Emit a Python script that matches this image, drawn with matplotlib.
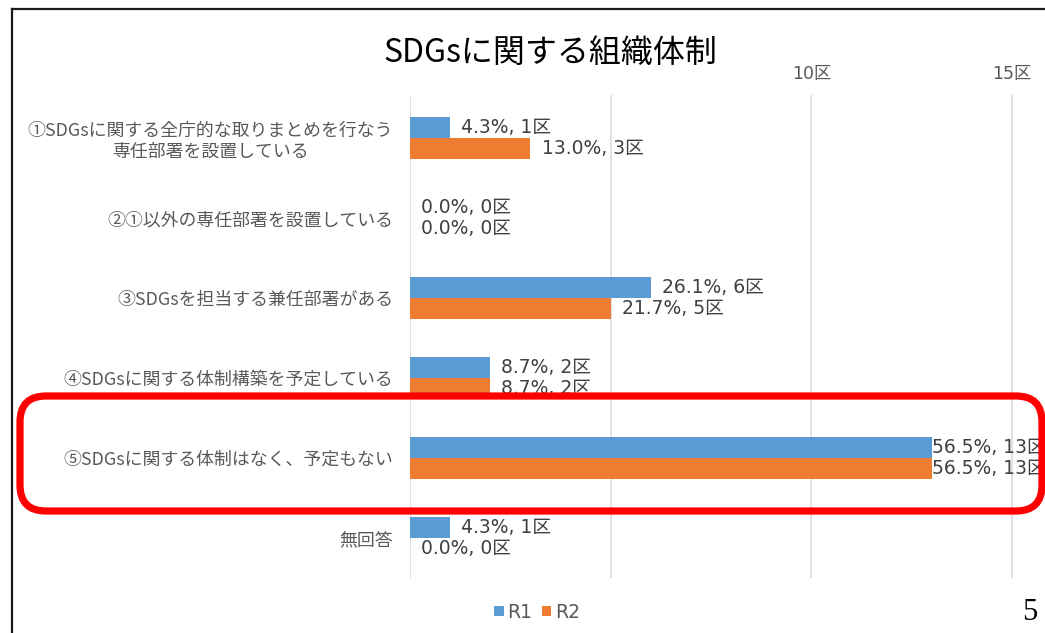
import matplotlib
matplotlib.use("Agg")
import matplotlib.pyplot as plt
from matplotlib.patches import FancyBboxPatch
from matplotlib.lines import Line2D
from matplotlib.transforms import IdentityTransform

plt.rcParams['font.family'] = ['DejaVu Sans', 'Noto Sans CJK JP']
CJK_FONT = ['Noto Sans CJK JP', 'DejaVu Sans']

categories = [
    "①SDGsに関する全庁的な取りまとめを行なう\n専任部署を設置している",
    "②①以外の専任部署を設置している",
    "③SDGsを担当する兼任部署がある",
    "④SDGsに関する体制構築を予定している",
    "⑤SDGsに関する体制はなく、予定もない",
    "無回答",
]
r1_counts = [1, 0, 6, 2, 13, 1]
r1_pcts = [4.3, 0.0, 26.1, 8.7, 56.5, 4.3]
r2_counts = [3, 0, 5, 2, 13, 0]
r2_pcts = [13.0, 0.0, 21.7, 8.7, 56.5, 0.0]
xticks = [0, 5, 10, 15]
xtick_labels = ["", "", "10区", "15区"]
series_names = ["R1", "R2"]

BLUE = "#5B9BD5"
ORANGE = "#ED7D31"
GRID = "#D9D9D9"

W, H = 1045, 633
fig = plt.figure(figsize=(W / 100, H / 100), dpi=100)
fig.patch.set_facecolor("white")

ax_left, ax_right, ax_top, ax_bot = 410, 1045, 95, 578
ax = fig.add_axes([ax_left / W, 1 - ax_bot / H, (ax_right - ax_left) / W, (ax_bot - ax_top) / H])

n = len(categories)
ypos = list(range(n))
bh = 0.2625
b1 = ax.barh([y - bh / 2 for y in ypos], r1_counts, height=bh, color=BLUE, label=series_names[0], zorder=3)
b2 = ax.barh([y + bh / 2 for y in ypos], r2_counts, height=bh, color=ORANGE, label=series_names[1], zorder=3)

xmax = (ax_right - ax_left) / ((1012 - 410) / 15)
ax.set_xlim(0, xmax)
ax.set_ylim(5.5, -0.5375)

ax.xaxis.tick_top()
ax.set_xticks(xticks)
ax.set_xticklabels(xtick_labels)
ax.tick_params(axis='x', length=0, pad=9, labelsize=12.5, labelcolor="#595959")
ax.set_yticks(ypos)
ax.set_yticklabels(categories, multialignment='center', family=CJK_FONT)
ax.tick_params(axis='y', length=0, pad=12, labelsize=12.9, labelcolor="#595959")
ax.grid(axis='x', color=GRID, linewidth=1.1, zorder=0)
for s in ax.spines.values():
    s.set_visible(False)

def label(y, v, p):
    off = 0 if v >= 12 else 8
    ax.annotate(f"{p:.1f}%, {v}区", xy=(v, y), xytext=(off, 0), textcoords="offset points",
                ha="left", va="center", fontsize=13.5, color="#404040", zorder=4,
                annotation_clip=False)

for y, v, p in zip(ypos, r1_counts, r1_pcts):
    label(y - bh / 2, v, p)
for y, v, p in zip(ypos, r2_counts, r2_pcts):
    label(y + bh / 2, v, p)

fig.text(550 / W, 1 - 53 / H, "SDGsに関する組織体制", ha="center", va="center",
         fontsize=23, color="#000000", family=CJK_FONT)

fig.legend(handles=[b1, b2], labels=series_names, loc="center", bbox_to_anchor=(537 / W, 1 - 612 / H),
           ncol=2, frameon=False, handlelength=0.5, handleheight=0.5, handletextpad=0.2,
           columnspacing=0.5, fontsize=13.5, labelcolor="#595959")

fig.text(1030 / W, 1 - 612 / H, "5", ha="center", va="center", fontsize=22,
         family="Liberation Serif", color="black")

# slide frame
fig.add_artist(Line2D([12 / W, 12 / W], [0, 1 - 9 / H], transform=fig.transFigure, color="#1a1a1a", lw=1.6))
fig.add_artist(Line2D([12 / W, 1], [1 - 9 / H, 1 - 9 / H], transform=fig.transFigure, color="#1a1a1a", lw=1.6))

# red highlight box
rect = FancyBboxPatch((20, H - 511), 1022, 115, boxstyle="round,pad=0,rounding_size=26",
                      transform=IdentityTransform(), fill=False, edgecolor="#FF0000", lw=5.2, zorder=10)
fig.patches.append(rect)

fig.savefig("out.png", dpi=100)
